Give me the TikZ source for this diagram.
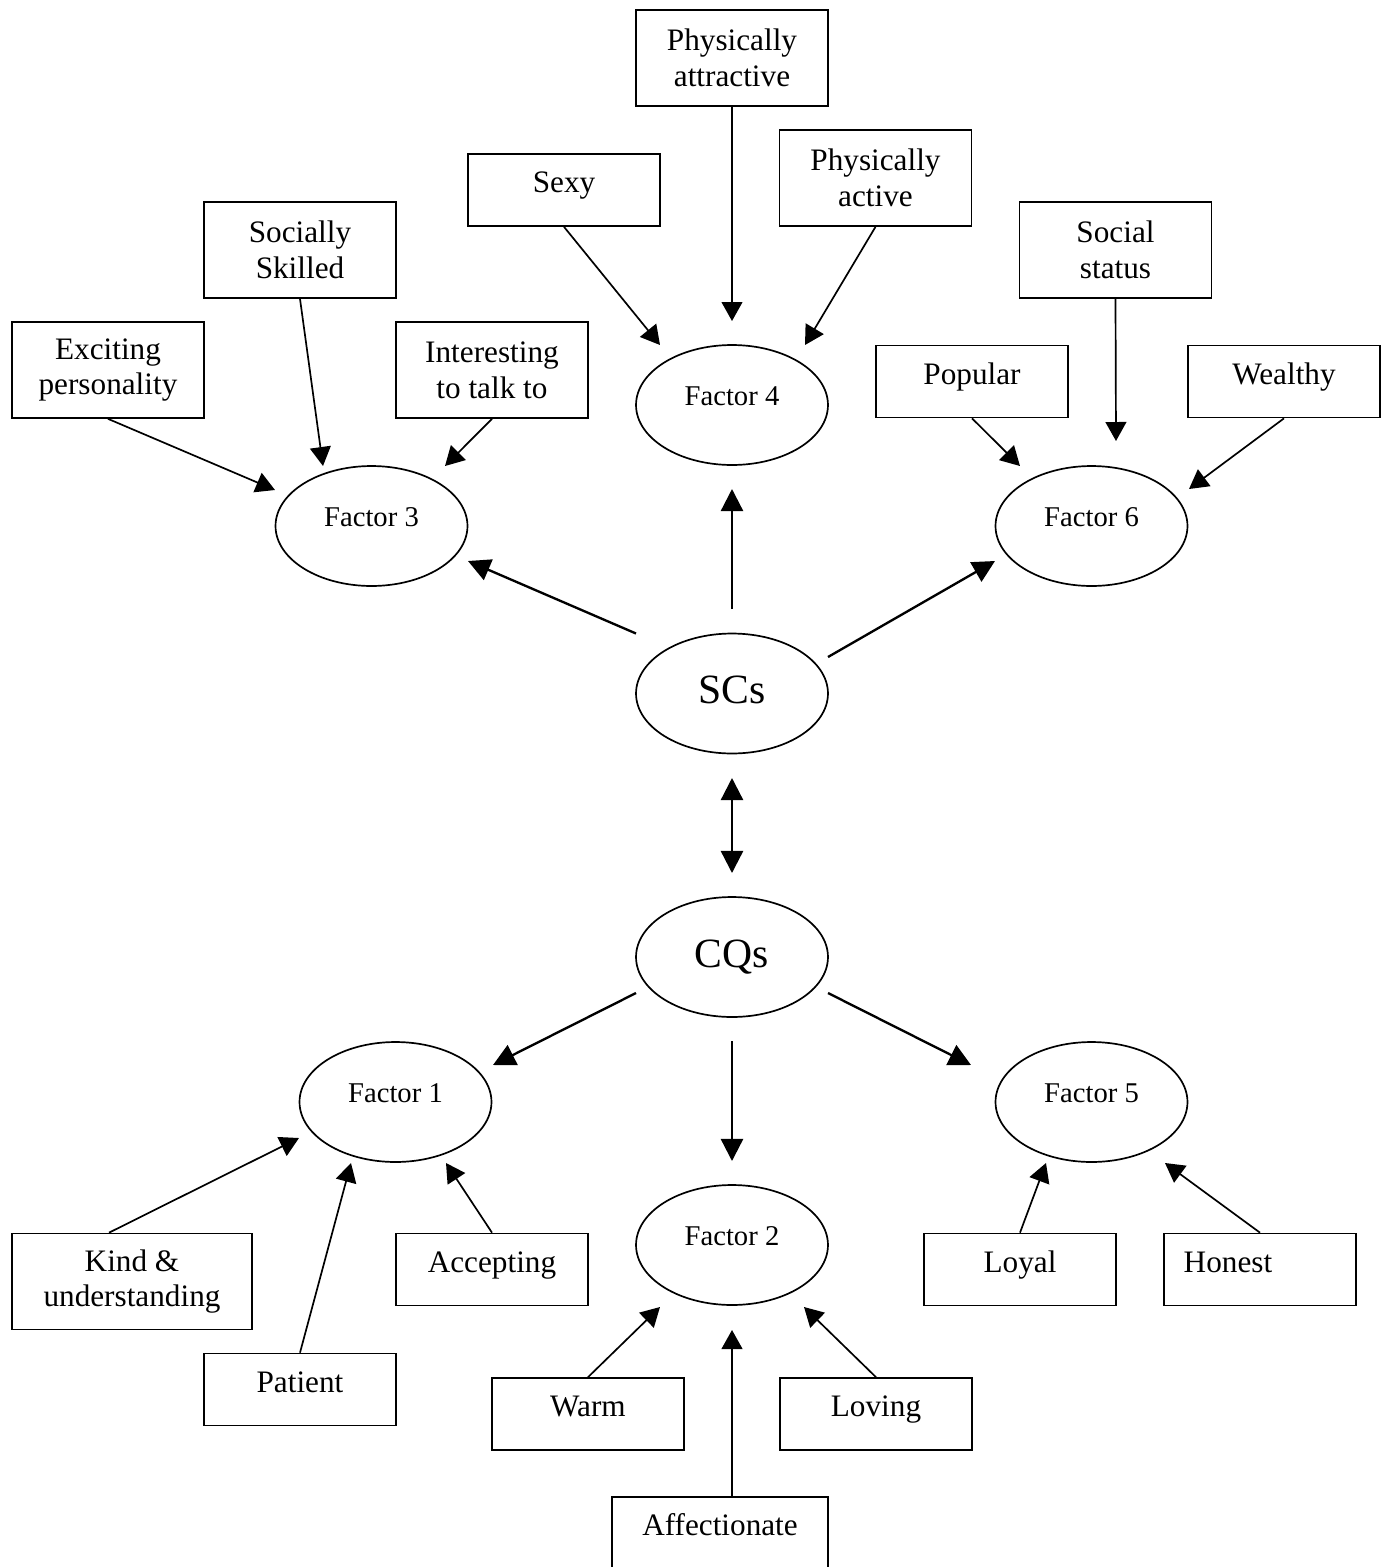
\documentclass[tikz,border=0pt]{standalone}
\usepackage{fontspec}
\setmainfont{Liberation Serif}
\usetikzlibrary{arrows.meta,shapes.geometric}
\begin{document}
\begin{tikzpicture}[x=0.0135cm, y=-0.0135cm,
  trait/.style={draw, line width=0.65pt, minimum width=2.592cm, minimum height=1.296cm, inner sep=0pt, align=center, font=\fontsize{12}{13.8}\selectfont},
  onetrait/.style={trait, minimum height=0.972cm, text height=8.5pt, text depth=6.5pt},
  factor/.style={draw, ellipse, line width=0.65pt, minimum width=2.592cm, minimum height=1.62cm, inner sep=0pt, font=\fontsize{11}{13}\selectfont, text height=7.8pt, text depth=7.2pt},
  core/.style={factor, font=\fontsize{16}{19}\selectfont, text height=11pt, text depth=3pt},
  loading/.style={->, >={Triangle[length=7.3pt,width=8pt]}, line width=0.65pt},
  link/.style={->, >={Triangle[length=8.5pt,width=8.5pt]}, line width=0.9pt}]
\useasboundingbox (0,0) rectangle (1389,1567);
\node[factor] (f4) at (732,405) {Factor 4};
\node[factor] (f3) at (371.5,526) {Factor 3};
\node[factor] (f6) at (1091.5,526) {Factor 6};
\node[core] (scs) at (732,693.5) {SCs};
\node[core] (cqs) at (732,957) {CQs};
\node[factor] (f1) at (395.5,1102) {Factor 1};
\node[factor] (f5) at (1091.5,1102) {Factor 5};
\node[factor] (f2) at (732,1245) {Factor 2};
\node[trait] (attractive) at (732,58) {Physically\\attractive};
\node[onetrait] (sexy) at (564,190) {Sexy};
\node[trait] (active) at (875.5,178) {Physically\\active};
\node[trait] (skilled) at (300,250) {Socially\\Skilled};
\node[trait] (status) at (1115.5,250) {Social\\status};
\node[trait] (exciting) at (108,370) {Exciting\\personality};
\node[trait] (interesting) at (492,370) {Interesting\\to talk to};
\node[onetrait] (popular) at (972,381.5) {Popular};
\node[onetrait] (wealthy) at (1284,381.5) {Wealthy};
\node[trait, minimum width=3.24cm] (kind) at (132,1281.5) {Kind \&\\understanding};
\node[onetrait] (accepting) at (492,1269.5) {Accepting};
\node[onetrait] (patient) at (300,1389.5) {Patient};
\node[onetrait] (warm) at (588,1414) {Warm};
\node[onetrait] (loving) at (876,1414) {Loving};
\node[onetrait, minimum width=2.916cm] (affectionate) at (720,1533) {Affectionate};
\node[onetrait] (loyal) at (1020,1269.5) {Loyal};
\node[onetrait, align=left, text width=2.06cm, inner xsep=0.265cm] (honest) at (1260,1269.5) {Honest};
\draw[loading] (attractive.south) -- ([shift={(0,-84)}]f4.center);
\draw[loading] (sexy.south) -- ([shift={(-72,-60)}]f4.center);
\draw[loading] (active.south) -- ([shift={(73,-60)}]f4.center);
\draw[loading] (skilled.south) -- ([shift={(-48.5,-60)}]f3.center);
\draw[loading] (exciting.south) -- ([shift={(-96.5,-36)}]f3.center);
\draw[loading] (interesting.south) -- ([shift={(73.5,-60)}]f3.center);
\draw[loading] (status.south) -- ([shift={(24.5,-85)}]f6.center);
\draw[loading] (popular.south) -- ([shift={(-71.5,-60)}]f6.center);
\draw[loading] (wealthy.south) -- ([shift={(97.5,-37)}]f6.center);
\draw[link] ([shift={(-96,-60)}]scs.center) -- ([shift={(96.5,35)}]f3.center);
\draw[link] ([shift={(0,-84.5)}]scs.center) -- ([shift={(0,84)}]f4.center);
\draw[link] ([shift={(96,-36.5)}]scs.center) -- ([shift={(-96.5,35)}]f6.center);
\draw[link, <->] ([shift={(0,84.5)}]scs.center) -- ([shift={(0,-84)}]cqs.center);
\draw[link] ([shift={(-96,36)}]cqs.center) -- ([shift={(97.5,-37)}]f1.center);
\draw[link] ([shift={(0,84)}]cqs.center) -- ([shift={(0,-84)}]f2.center);
\draw[link] ([shift={(96,36)}]cqs.center) -- ([shift={(-120.5,-37)}]f5.center);
\draw[loading] ([shift={(-23,0)}]kind.north) -- ([shift={(-96.5,36)}]f1.center);
\draw[loading] (patient.north) -- ([shift={(-44.5,61)}]f1.center);
\draw[loading] (accepting.north) -- ([shift={(50.5,61)}]f1.center);
\draw[loading] (warm.north) -- ([shift={(-72,62)}]f2.center);
\draw[loading] ([shift={(12,0)}]affectionate.north) -- ([shift={(0,85)}]f2.center);
\draw[loading] (loving.north) -- ([shift={(72,62)}]f2.center);
\draw[loading] (loyal.north) -- ([shift={(-45.5,61)}]f5.center);
\draw[loading] (honest.north) -- ([shift={(73.5,61)}]f5.center);
\end{tikzpicture}
\end{document}
